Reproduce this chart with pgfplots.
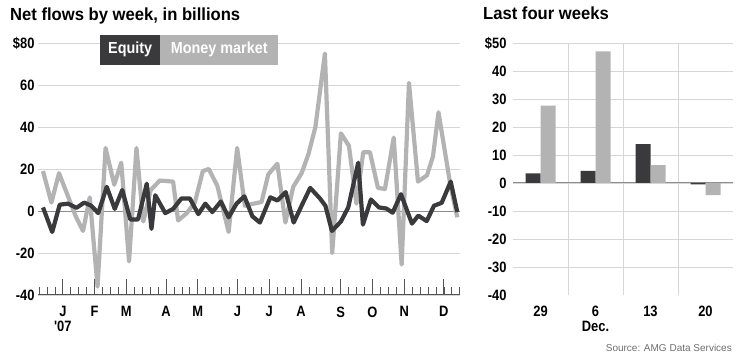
\documentclass[border=0pt]{standalone}
\usepackage{fontspec}
\setmainfont{Liberation Sans}
\newfontfamily\condfont{Liberation Sans}[FakeStretch=0.86]
\newfontfamily\titlefont{Liberation Sans}[FakeStretch=0.95]
\newfontfamily\legfont{Liberation Sans}[FakeStretch=0.9]
\usepackage{pgfplots}
\pgfplotsset{compat=1.18}
\definecolor{eqcol}{HTML}{3A3A3C}
\definecolor{mmcol}{HTML}{B3B3B3}
\definecolor{gridc}{HTML}{D6D6D6}
\definecolor{zeroc}{HTML}{8C8C8C}
\definecolor{axc}{HTML}{555555}
\definecolor{srcc}{HTML}{6E6E6E}
\newcommand{\tickfont}{\condfont\bfseries\fontsize{15}{15}\selectfont}
\begin{document}
\begin{tikzpicture}
\useasboundingbox (0,0) rectangle (740pt,359pt);
% ---------------- left panel: weekly lines ----------------
\begin{axis}[
  at={(38pt,64pt)}, anchor=south west,
  scale only axis, width=422pt, height=252pt,
  xmin=38.3, xmax=460, ymin=-40, ymax=80,
  axis line style={draw=none},
  ytick={-40,-20,0,20,40,60,80},
  yticklabels={-40,-20,0,20,40,60,\$80},
  ymajorgrids, major grid style={gridc, line width=0.8pt},
  ytick style={draw=none},
  xtick={63.13,94.87,126.6,166.3,198.0,237.7,269.4,301.1,340.8,372.5,404.2,443.9},
  xticklabels={{J\\'07},F,M,A,M,J,J,A,S,O,N,D},
  minor xtick={39.33,47.263,...,460},
  xtick pos=bottom, tick align=inside,
  major tick length=16pt, minor tick length=8pt,
  x tick style={axc, line width=0.8pt},
  tick label style={font=\tickfont},
  xticklabel style={align=center, yshift=-8pt},
]
\draw[zeroc, line width=1pt] (axis cs:38.3,0) -- (axis cs:460,0);
\draw[axc, line width=1pt] (axis cs:38.3,-40) -- (axis cs:460,-40);
\addplot[mmcol, line width=4.2pt, line join=round] coordinates {
(43.3,19) (51.7,4) (59.3,18) (68.3,7) (76,-2.5) (83.3,-9.5) (90,6.5)
(97.8,-36) (105.8,30) (114.5,12.5) (121.5,23) (129.3,-24) (136.7,30)
(143.5,-5) (151,10) (160,14.5) (173.3,14) (178.3,-4.5) (187,-1) (195,4)
(203,19) (209,20) (217.5,12) (228.8,-10) (237.3,30) (245,2.5) (252,3.3)
(261.7,4.3) (268.5,17.5) (277.5,22.5) (285.5,-5.5) (293.3,11.5)
(301.7,18) (308.5,27) (315.5,40) (325,75) (332.3,-20) (341,37)
(349,31) (356.5,3.5) (363.3,28) (370,28) (378,11) (385,10.5)
(393.8,35) (401.7,-25.5) (409,61) (418,14) (427,17) (433,26) (438.5,47)
(450.5,12) (457.3,-3)};
\addplot[eqcol, line width=4.2pt, line join=round] coordinates {
(43.3,1.7) (52.5,-10) (60,3) (68.3,3.5) (76.7,1.5) (84.5,4) (91.5,2.5)
(98.5,-1) (107,11.5) (115,1) (122.5,10) (130.5,-4) (138.3,-4) (147,13)
(151.7,-8.5) (155.5,7.5) (165.5,-1) (173.3,1) (181.7,6) (190,6)
(198.5,-1.5) (205.5,3.5) (212.5,-0.5) (221,4.5) (228.8,-3) (236.7,3.5)
(244.5,7) (252.5,-2.5) (260,-5.5) (270.5,6.5) (277.5,5) (285.8,9)
(293.8,-5.5) (301.7,2.5) (310.3,11) (320,6) (325.5,2.5) (332,-9.5)
(341,-5) (348.3,1.7) (358.3,23) (363,-6.5) (371,5.5) (379,1.7)
(386.3,1.2) (392.7,-0.8) (401,8) (412,-6) (418.3,-2.2) (426.7,-4.8)
(434,2.5) (441.7,3.9) (450.7,14) (457.3,-0.5)};
\end{axis}
% ---------------- right panel: last four weeks ----------------
\begin{axis}[
  at={(513pt,64pt)}, anchor=south west,
  scale only axis, width=220pt, height=252pt,
  xmin=-0.5, xmax=3.5, ymin=-40, ymax=50,
  axis line style={draw=none},
  ybar=0pt, bar width=15pt,
  ytick={-30,-20,...,50},
  yticklabels={-30,-20,-10,0,10,20,30,40,\$50},
  extra y ticks={-40}, extra y tick labels={-40},
  extra y tick style={grid=none},
  ymajorgrids, major grid style={gridc, line width=0.8pt},
  xtick={0,1,2,3}, xticklabels={29,{6\\Dec.},13,20},
  minor xtick={0.5,1.5,2.5}, xminorgrids,
  minor grid style={gridc, line width=0.8pt},
  tick style={draw=none},
  tick label style={font=\tickfont},
  xticklabel style={align=center, yshift=-3pt},
  yticklabel style={xshift=-3pt},
]
\draw[zeroc, line width=1pt] (axis cs:-0.5,0) -- (axis cs:3.5,0);
\addplot[fill=eqcol, draw=none] coordinates {(0,3.4) (1,4.3) (2,13.9) (3,-0.5)};
\addplot[fill=mmcol, draw=none] coordinates {(0,27.6) (1,47) (2,6.4) (3,-4.3)};
\end{axis}
% ---------------- titles, legend, source ----------------
\node[anchor=base west, inner sep=0] at (10pt,338pt)
  {\titlefont\bfseries\fontsize{17.5}{20}\selectfont Net flows by week, in billions};
\node[anchor=base west, inner sep=0] at (483pt,339pt)
  {\titlefont\bfseries\fontsize{17.5}{20}\selectfont Last four weeks};
\node[anchor=south west, fill=eqcol, text=white, inner sep=0,
  minimum width=60pt, minimum height=30pt] at (100pt,294pt)
  {\legfont\bfseries\fontsize{16}{18}\selectfont Equity};
\node[anchor=south west, fill=mmcol, text=white, inner sep=0,
  minimum width=118pt, minimum height=30pt] at (160pt,294pt)
  {\legfont\bfseries\fontsize{16}{18}\selectfont Money market};
\node[anchor=base east, inner sep=0, text=srcc] at (732pt,7pt)
  {\fontsize{10}{12}\selectfont Source: AMG Data Services};
\end{tikzpicture}
\end{document}
